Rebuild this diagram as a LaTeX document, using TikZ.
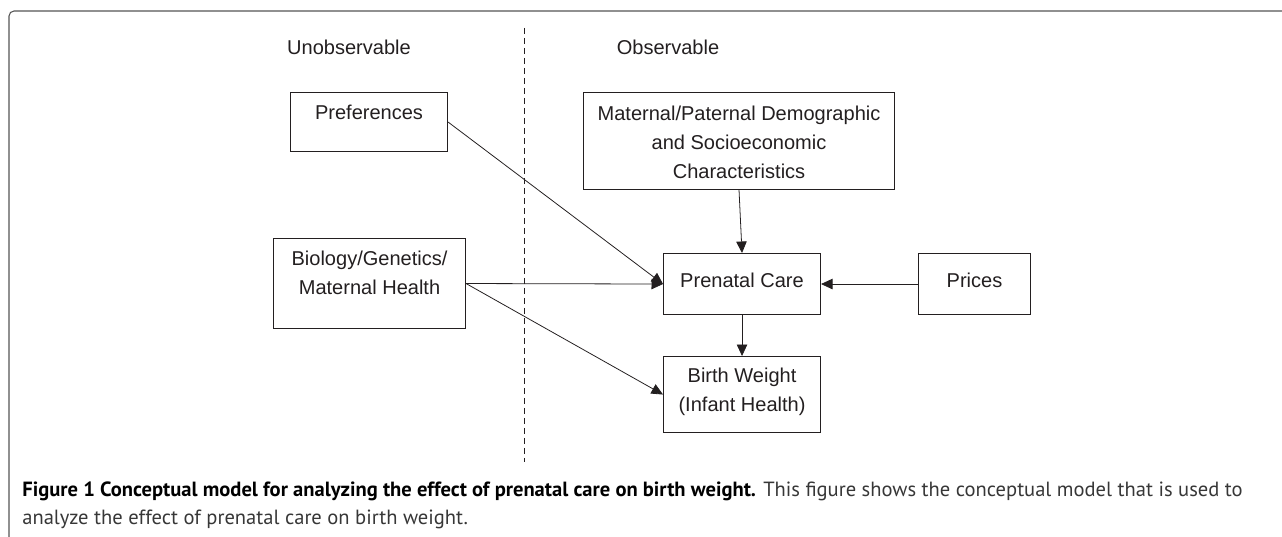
\documentclass[tikz,border=0pt]{standalone}
\usepackage{fontspec}
\setmainfont{Liberation Sans}
\newfontfamily\capfont{PT Sans}
\usepackage{xcolor}
\definecolor{ink}{RGB}{35,31,32}
\definecolor{framegray}{RGB}{85,85,85}
\definecolor{capgray}{RGB}{55,55,55}
\usetikzlibrary{arrows.meta}
\newlength{\unitpx}
\setlength{\unitpx}{0.02cm}
\newcommand{\boxtext}[4]{\parbox[t][#2\unitpx][t]{#1\unitpx}{\centering\rule{0pt}{#3\unitpx}#4}}
\tikzset{
    common/.style={text=ink, font=\fontsize{11.4}{16.4}\selectfont},
    factor/.style={common, draw=ink, line width=0.6pt, inner sep=0pt, anchor=north west},
    heading/.style={common, anchor=base, inner sep=0pt},
    link/.style={draw=ink, line width=0.45pt, -{Triangle[length=2.3mm, width=2.1mm]}},
    divider/.style={draw=ink, line width=0.5pt, dash pattern=on 1.2mm off 0.8mm},
    panel/.style={draw=framegray, line width=0.6pt, rounded corners=1mm},
    caption/.style={anchor=base west, align=left, inner sep=0pt, text=capgray,
        font=\capfont\fontsize{11.7}{15.6}\selectfont}
}

\begin{document}
\begin{tikzpicture}[x=0.02cm, y=-0.02cm]
    \useasboundingbox (0,0) rectangle (1282,537);
    \draw[panel] (9,537) |- (1282,11);

    \path
        node[heading] (unobs) at (349,55) {Unobservable}
        node[heading] (obs) at (668,55) {Observable};

    \coordinate (divide-top) at (524,28);
    \coordinate (divide-bottom) at (524,462);
    \draw[divider] (divide-top) -- (divide-bottom);

    \path
        node[factor] (pref) at (290,92) {\boxtext{157}{59}{27}{Preferences}}
        node[factor] (bio) at (273,238) {\boxtext{192}{90}{27}{Biology/Genetics/\\Maternal Health}}
        node[factor] (demo) at (583,92) {\boxtext{311}{97}{28}{Maternal/Paternal Demographic\\and Socioeconomic\\Characteristics}}
        node[factor] (care) at (663,253) {\boxtext{157}{61}{34}{Prenatal Care}}
        node[factor] (prices) at (918,253) {\boxtext{112}{61}{34}{Prices}}
        node[factor] (birth) at (663,356) {\boxtext{157}{76}{26}{Birth Weight\\(Infant Health)}};

    \draw[link] (pref.east) -- (care.west);
    \draw[link] (bio.east) -- (care.west);
    \draw[link] (bio.east) -- (birth.west);
    \draw[link] (demo.south) -- (care.north);
    \draw[link] (prices.west) -- (care.east);
    \draw[link] (care.south) -- (birth.north);

    \node[caption] (caption) at (22,524) {{\color{black}\bfseries Figure 1 Conceptual model for analyzing the effect of prenatal care on birth weight.} This figure shows the conceptual model that is used to\\analyze the effect of prenatal care on birth weight.};
\end{tikzpicture}
\end{document}
